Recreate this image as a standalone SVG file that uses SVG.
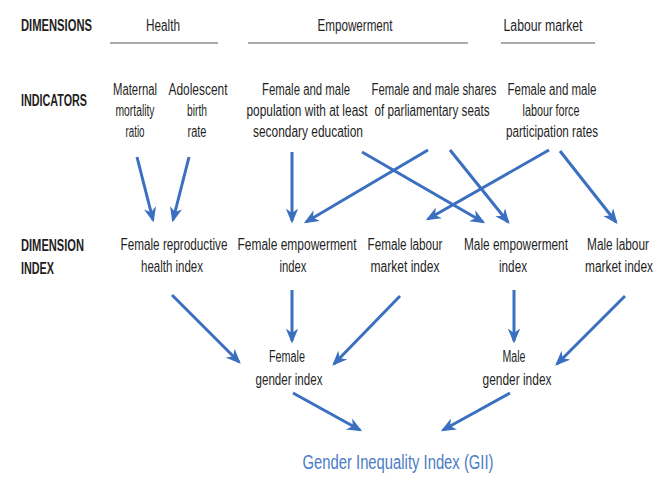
<svg xmlns="http://www.w3.org/2000/svg" width="662" height="477" viewBox="0 0 662 477">
<style>
text{font-family:"Liberation Sans",Arial,sans-serif;font-size:16px;fill:#1f1f1f;text-anchor:middle}
.h{font-weight:bold;text-anchor:start}
.gii{fill:#4a7cc6;font-size:20px}
.rule{stroke:#ababab;stroke-width:2.2}
.a{stroke:#3b6fc0;stroke-width:3;fill:none;marker-end:url(#ah)}
</style>
<defs>
<marker id="ah" viewBox="0 0 12 10" refX="10" refY="5" markerWidth="5" markerHeight="4.2" orient="auto" markerUnits="strokeWidth">
<path d="M0,0 L12,5 L0,10 L3.5,5 Z" fill="#3b6fc0"/>
</marker>
</defs>
<rect width="662" height="477" fill="#fff"/>
<g id="row-labels">
<text class="h" x="21" y="31" textLength="71" lengthAdjust="spacingAndGlyphs">DIMENSIONS</text>
<text class="h" x="21" y="106" textLength="66" lengthAdjust="spacingAndGlyphs">INDICATORS</text>
<text class="h" x="21" y="251" textLength="63" lengthAdjust="spacingAndGlyphs">DIMENSION</text>
<text class="h" x="21" y="274" textLength="33" lengthAdjust="spacingAndGlyphs">INDEX</text>
</g>
<g id="dim-health"><text x="163" y="31" textLength="34" lengthAdjust="spacingAndGlyphs">Health</text><line class="rule" x1="110" y1="43" x2="218" y2="43"/></g>
<g id="dim-empowerment"><text x="355" y="31" textLength="75" lengthAdjust="spacingAndGlyphs">Empowerment</text><line class="rule" x1="248" y1="43" x2="468" y2="43"/></g>
<g id="dim-labour"><text x="543" y="31" textLength="79" lengthAdjust="spacingAndGlyphs">Labour market</text><line class="rule" x1="501" y1="43" x2="595" y2="43"/></g>
<g id="ind-maternal">
<text x="135" y="95" textLength="44" lengthAdjust="spacingAndGlyphs">Maternal</text>
<text x="135" y="116" textLength="39" lengthAdjust="spacingAndGlyphs">mortality</text>
<text x="135" y="137" textLength="19" lengthAdjust="spacingAndGlyphs">ratio</text>
</g>
<g id="ind-adolescent">
<text x="198" y="95" textLength="59" lengthAdjust="spacingAndGlyphs">Adolescent</text>
<text x="197" y="116" textLength="20" lengthAdjust="spacingAndGlyphs">birth</text>
<text x="197" y="137" textLength="19" lengthAdjust="spacingAndGlyphs">rate</text>
</g>
<g id="ind-education">
<text x="306" y="95" textLength="88" lengthAdjust="spacingAndGlyphs">Female and male</text>
<text x="307" y="116" textLength="121" lengthAdjust="spacingAndGlyphs">population with at least</text>
<text x="308" y="137" textLength="110" lengthAdjust="spacingAndGlyphs">secondary education</text>
</g>
<g id="ind-parliament">
<text x="434" y="95" textLength="125" lengthAdjust="spacingAndGlyphs">Female and male shares</text>
<text x="432" y="116" textLength="115" lengthAdjust="spacingAndGlyphs">of parliamentary seats</text>
</g>
<g id="ind-labour">
<text x="552" y="95" textLength="89" lengthAdjust="spacingAndGlyphs">Female and male</text>
<text x="551" y="116" textLength="57" lengthAdjust="spacingAndGlyphs">labour force</text>
<text x="552" y="137" textLength="92" lengthAdjust="spacingAndGlyphs">participation rates</text>
</g>
<g id="idx-f-repro">
<text x="174" y="250" textLength="107" lengthAdjust="spacingAndGlyphs">Female reproductive</text>
<text x="172" y="272" textLength="62" lengthAdjust="spacingAndGlyphs">health index</text>
</g>
<g id="idx-f-emp">
<text x="297" y="250" textLength="119" lengthAdjust="spacingAndGlyphs">Female empowerment</text>
<text x="293" y="272" textLength="27" lengthAdjust="spacingAndGlyphs">index</text>
</g>
<g id="idx-f-lab">
<text x="405" y="250" textLength="75" lengthAdjust="spacingAndGlyphs">Female labour</text>
<text x="405" y="272" textLength="69" lengthAdjust="spacingAndGlyphs">market index</text>
</g>
<g id="idx-m-emp">
<text x="516" y="250" textLength="104" lengthAdjust="spacingAndGlyphs">Male empowerment</text>
<text x="513" y="272" textLength="28" lengthAdjust="spacingAndGlyphs">index</text>
</g>
<g id="idx-m-lab">
<text x="618" y="250" textLength="62" lengthAdjust="spacingAndGlyphs">Male labour</text>
<text x="619" y="272" textLength="68" lengthAdjust="spacingAndGlyphs">market index</text>
</g>
<g id="f-gender">
<text x="287" y="362" textLength="36" lengthAdjust="spacingAndGlyphs">Female</text>
<text x="289" y="385" textLength="67" lengthAdjust="spacingAndGlyphs">gender index</text>
</g>
<g id="m-gender">
<text x="514" y="362" textLength="23" lengthAdjust="spacingAndGlyphs">Male</text>
<text x="517" y="385" textLength="69" lengthAdjust="spacingAndGlyphs">gender index</text>
</g>
<g id="gii"><text class="gii" x="398" y="469" textLength="191" lengthAdjust="spacingAndGlyphs">Gender Inequality Index (GII)</text></g>
<g id="connectors">
<line class="a" x1="137" y1="157" x2="153" y2="220"/>
<line class="a" x1="189" y1="157" x2="173" y2="220"/>
<line class="a" x1="292" y1="152" x2="292" y2="221"/>
<line class="a" x1="428" y1="150" x2="306" y2="222"/>
<line class="a" x1="362" y1="152" x2="483" y2="222"/>
<line class="a" x1="450" y1="150" x2="508" y2="222"/>
<line class="a" x1="549" y1="150" x2="428" y2="219"/>
<line class="a" x1="560" y1="151" x2="616" y2="222"/>
<line class="a" x1="172" y1="295" x2="239" y2="362"/>
<line class="a" x1="292" y1="290" x2="292" y2="341"/>
<line class="a" x1="400" y1="296" x2="334" y2="364"/>
<line class="a" x1="514" y1="290" x2="514" y2="341"/>
<line class="a" x1="625" y1="296" x2="557" y2="364"/>
<line class="a" x1="293" y1="393" x2="360" y2="430"/>
<line class="a" x1="510" y1="393" x2="443" y2="430"/>
</g>
</svg>
